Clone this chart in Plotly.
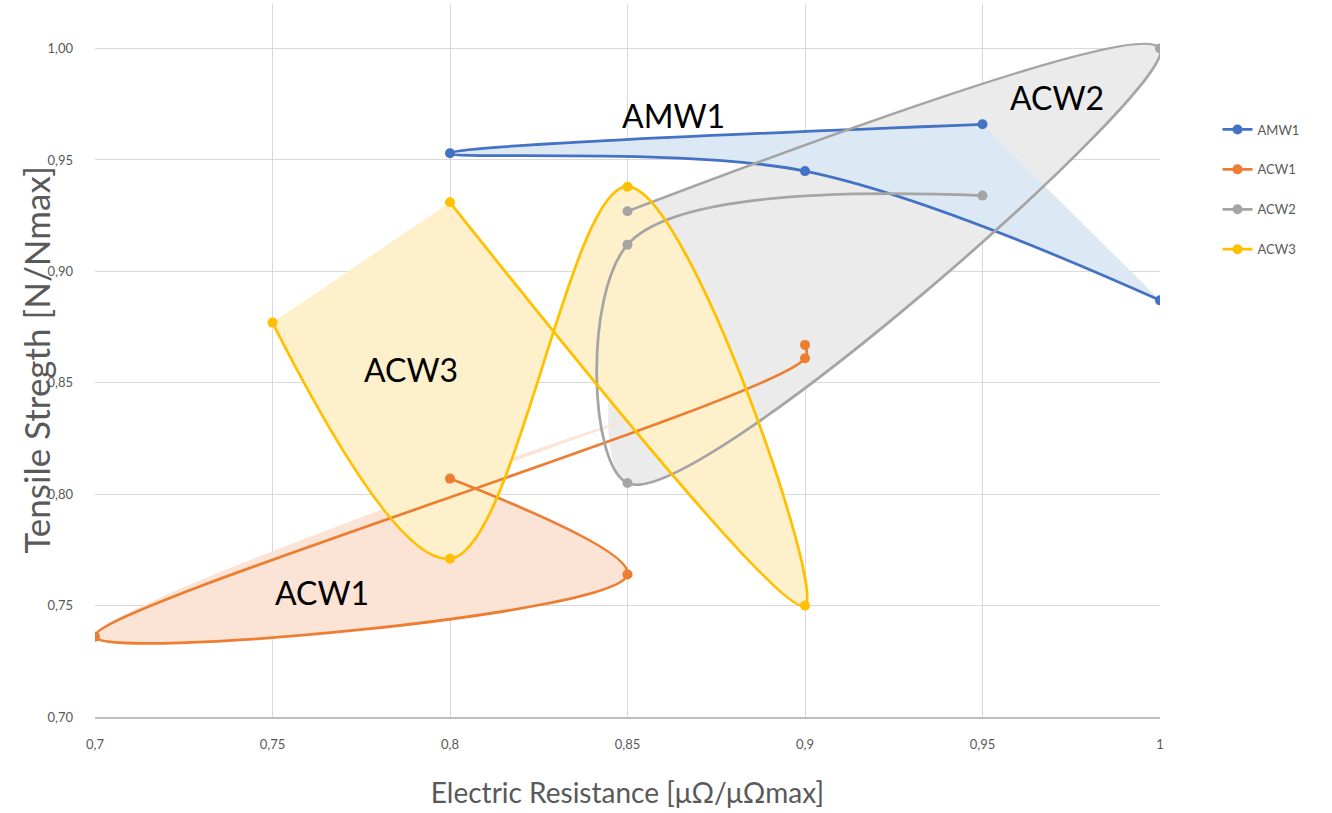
import plotly.graph_objects as go

# ---- data ----
series_names = ["AMW1", "ACW1", "ACW2", "ACW3"]

amw1_x = [0.95, 0.80, 0.90, 1.00]
amw1_y = [0.966, 0.953, 0.945, 0.887]

acw1_x = [0.90, 0.90, 0.70, 0.85, 0.80]
acw1_y = [0.867, 0.861, 0.736, 0.764, 0.807]

acw2_x = [0.95, 0.85, 0.85, 1.00, 0.85]
acw2_y = [0.934, 0.912, 0.805, 1.000, 0.927]

acw3_x = [0.75, 0.80, 0.85, 0.90, 0.80]
acw3_y = [0.877, 0.771, 0.938, 0.750, 0.931]

# which points (by index) outline each shaded region
amw1_fill_idx = [0, 1, 2, 3]
acw1_fill_idx = [1, 2, 3, 4]
acw2_fill_idx = [1, 2, 3, 4]
acw3_fill_idx = [0, 1, 2, 3, 4]

x_tickvals = [0.70, 0.75, 0.80, 0.85, 0.90, 0.95, 1.00]
x_ticktext = ["0,7", "0,75", "0,8", "0,85", "0,9", "0,95", "1"]
y_tickvals = [0.70, 0.75, 0.80, 0.85, 0.90, 0.95, 1.00]
y_ticktext = ["0,70", "0,75", "0,80", "0,85", "0,90", "0,95", "1,00"]

label_text = ["AMW1", "ACW2", "ACW3", "ACW1"]
label_x = [0.863, 0.971, 0.789, 0.764]
label_y = [0.970, 0.978, 0.856, 0.756]

x_title = "Electric Resistance [μΩ/μΩmax]"
y_title = "Tensile Stregth [N/Nmax]"

# ---- styles ----
line_colors = {"AMW1": "#4472C4", "ACW1": "#ED7D31", "ACW2": "#A5A5A5", "ACW3": "#FFC000"}
fill_colors = {"AMW1": "#DDE8F5", "ACW1": "#FBE3D5", "ACW2": "#EBEBEB", "ACW3": "#FFF0CC"}

data = {
    "AMW1": (amw1_x, amw1_y, amw1_fill_idx),
    "ACW1": (acw1_x, acw1_y, acw1_fill_idx),
    "ACW2": (acw2_x, acw2_y, acw2_fill_idx),
    "ACW3": (acw3_x, acw3_y, acw3_fill_idx),
}

fig = go.Figure()

# shaded regions (drawn first, under the lines)
for name in ["ACW2", "ACW1", "AMW1", "ACW3"]:
    xs, ys, idx = data[name]
    fig.add_trace(go.Scatter(
        x=[xs[i] for i in idx], y=[ys[i] for i in idx],
        mode="lines", line=dict(width=0, shape="spline", smoothing=1),
        fill="toself", fillcolor=fill_colors[name],
        showlegend=False, hoverinfo="skip",
    ))

# smoothed lines with markers
for name in series_names:
    xs, ys, _ = data[name]
    fig.add_trace(go.Scatter(
        x=xs, y=ys, name=name, mode="lines+markers",
        line=dict(color=line_colors[name], width=2.75, shape="spline", smoothing=1),
        marker=dict(color=line_colors[name], size=10),
        legendgroup=name,
    ))

for t, lx, ly in zip(label_text, label_x, label_y):
    fig.add_annotation(x=lx, y=ly, text=t, showarrow=False,
                       font=dict(family="Lato", size=32, color="#000000"))

# vertical axis title, placed as rotated text left of the tick labels
fig.add_annotation(xref="paper", yref="paper", x=-0.0563, y=0.5, text=y_title,
                   textangle=-90, showarrow=False, xanchor="center", yanchor="middle",
                   font=dict(family="Lato", size=35, color="#595959"))

fig.update_layout(
    width=1332, height=813,
    margin=dict(l=95, r=172, t=4, b=96),
    paper_bgcolor="white", plot_bgcolor="white",
    font=dict(family="Lato", color="#595959"),
    showlegend=True,
    legend=dict(x=1.054, y=0.845, xanchor="left", yanchor="top",
                font=dict(family="Lato", size=13, color="#595959"),
                traceorder="grouped", tracegroupgap=20, itemwidth=30,
                bgcolor="rgba(0,0,0,0)"),
    xaxis=dict(range=[0.7, 1.0], tickvals=x_tickvals, ticktext=x_ticktext,
               showgrid=True, gridcolor="#D9D9D9", gridwidth=1, zeroline=False,
               showline=True, linecolor="#BFBFBF", linewidth=1.5,
               ticks="", ticklabelstandoff=15,
               tickfont=dict(family="Lato", size=13, color="#595959"),
               title=dict(text=x_title, standoff=32,
                          font=dict(family="Lato", size=28, color="#595959"))),
    yaxis=dict(range=[0.70, 1.02], tickvals=y_tickvals, ticktext=y_ticktext,
               showgrid=True, gridcolor="#D9D9D9", gridwidth=1, zeroline=False,
               showline=False, ticks="", ticklabelstandoff=21,
               tickfont=dict(family="Lato", size=13, color="#595959")),
)

fig.write_html("out.html", post_script="document.body.style.margin='0';",
               config={"displayModeBar": False})
